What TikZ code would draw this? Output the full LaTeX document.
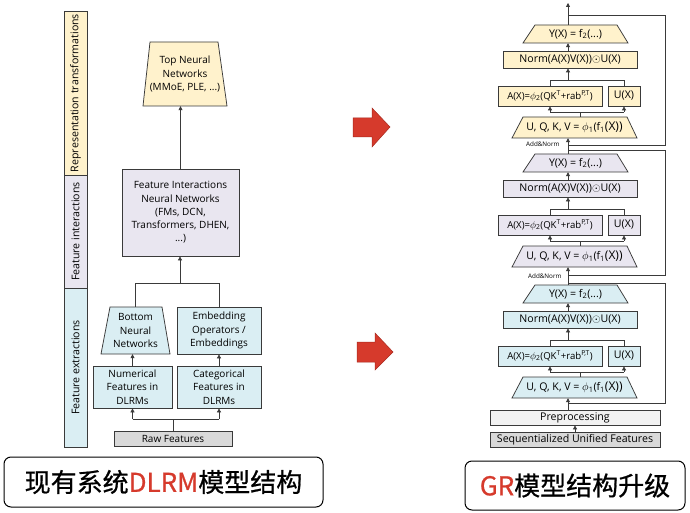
\documentclass[tikz,border=0pt]{standalone}
\usepackage{fontspec}
\setmainfont{Open Sans}
\newfontfamily\cjk[FakeBold=0.7]{Noto Sans CJK SC}
\usetikzlibrary{arrows.meta}
\definecolor{cyl}{HTML}{FFF2CC}
\definecolor{clav}{HTML}{E9E6F0}
\definecolor{cblu}{HTML}{DAEEF3}
\definecolor{cgry}{HTML}{D9D9D9}
\definecolor{cpre}{HTML}{F2F2F2}
\definecolor{cred}{HTML}{D63A2C}
\definecolor{cdred}{HTML}{A82A1F}
\definecolor{cln}{HTML}{3A3A3A}
\newcommand\bx[7]{%
  \pgfmathsetmacro\bxcx{(#2+#4)/2}\pgfmathsetmacro\bxcy{(#3+#5)/2}%
  \pgfmathsetmacro\bxw{#4-#2}\pgfmathsetmacro\bxh{#5-#3}%
  \node[#6, minimum width=\bxw pt, minimum height=\bxh pt, inner sep=0pt] (#1) at (\bxcx,\bxcy) {#7};}
\newcommand\tz[9]{%
  \draw[#8] (#2,#6) -- (#3,#6) -- (#5,#7) -- (#4,#7) -- cycle;
  \pgfmathsetmacro\bxcx{(#4+#5)/2}\pgfmathsetmacro\bxcy{(#6+#7)/2}%
  \pgfmathsetmacro\bxw{#5-#4}\pgfmathsetmacro\bxh{#7-#6}%
  \node[txt, minimum width=\bxw pt, minimum height=\bxh pt, inner sep=0pt] (#1) at (\bxcx,\bxcy) {#9};}
\newcommand\rtxt{\fontsize{10.6}{12}\selectfont}
\newcommand\sidetxt{\fontsize{10.6}{12}\selectfont}
\newcommand\grblock[1]{%
  \tz{Y}{535}{617}{523}{628}{25}{43}{box,fill=#1}{\rtxt Y(X) = f\textsubscript{2}(...)}
  \bx{N}{503}{51}{637}{68}{box,txt,fill=#1}{\rtxt Norm(A(X)V(X))$\odot$U(X)}
  \bx{A}{498}{86}{602}{106}{box,txt,fill=#1}{\fontsize{9.6}{11}\selectfont A(X)=$\phi$\textsubscript{2}(QK\textsuperscript{T}+rab\textsuperscript{P,T})}
  \bx{U}{608}{86}{640}{106}{box,txt,fill=#1}{\rtxt U(X)}
  \tz{Q}{523}{627}{512}{637}{117}{138}{box,fill=#1}{\rtxt U, Q, K, V = $\phi$\textsubscript{1}(f\textsubscript{1}{\fontsize{12}{12}\selectfont(X))}}
  \coordinate (j1) at (580,112);
  \coordinate (j2) at (568,80);
  \draw[ln] (Q.north -| j1) -- (j1);
  \draw[ln] (A.south |- j1) -- (U.south |- j1);
  \draw[arr] (A.south |- j1) -- (A.south);
  \draw[arr] (U.south |- j1) -- (U.south);
  \draw[ln] (A.north) -- (A.north |- j2) -- (U.north |- j2) -- (U.north);
  \draw[arr] (j2) -- (j2 |- N.south);
  \draw[arr] (N.north -| j2) -- (j2 |- Y.south);
}
\begin{document}
\begin{tikzpicture}[x=1pt,y=-1pt,
  box/.style={draw=cln, line width=0.75pt},
  txt/.style={font=\fontsize{10}{13.3}\selectfont, text=black, align=center},
  ln/.style={draw=cln, line width=0.75pt},
  arr/.style={ln, -{Triangle[length=4pt,width=4pt]}},
  red/.style={fill=cred, draw=cdred, line width=0.5pt},
  capbox/.style={draw=black, line width=1pt, rounded corners=7pt},
  small/.style={font=\fontsize{6.3}{7}\selectfont, text=black}]
\useasboundingbox (0,0) rectangle (690,513);
\fill[white] (0,0) rectangle (690,513);

% ---------- left sidebar ----------
\bx{s1}{64}{11}{87}{175}{box,txt,fill=cyl}{\sidetxt\rotatebox{90}{Representation transformations}}
\bx{s2}{64}{175}{87}{288}{box,txt,fill=clav}{\sidetxt\rotatebox{90}{Feature interactions}}
\bx{s3}{64}{288}{87}{447}{box,txt,fill=cblu}{\sidetxt\rotatebox{90}{Feature extractions}}

% ---------- left DLRM ----------
\tz{top}{150}{218}{143}{227}{42}{106}{box,fill=cyl}{Top Neural\\Networks\\(MMoE, PLE, ...)}
\bx{fi}{122}{169}{239}{256}{box,txt,fill=clav}{Feature Interactions\\Neural Networks\\(FMs, DCN,\\Transformers, DHEN,\\...)}
\tz{bnn}{110}{162}{101}{170}{307}{354}{box,fill=cblu}{Bottom\\Neural\\Networks}
\bx{emb}{177}{307}{261}{354}{box,txt,fill=cblu}{Embedding\\Operators /\\Embeddings}
\bx{num}{93}{366}{172}{408}{box,txt,fill=cblu}{Numerical\\Features in\\DLRMs}
\bx{cat}{177}{366}{261}{408}{box,txt,fill=cblu}{Categorical\\Features in\\DLRMs}
\bx{raw}{114}{431}{232}{446}{box,txt,fill=cgry}{Raw Features}

\coordinate (jr) at (173,419);
\coordinate (jf) at (180,283);
\draw[ln] (raw.north) -- (jr);
\draw[ln] (num.south |- jr) -- (cat.south |- jr);
\draw[arr] (num.south |- jr) -- (num.south);
\draw[arr] (cat.south |- jr) -- (cat.south);
\draw[arr] (num.north) -- (num.north |- bnn.south);
\draw[arr] (cat.north) -- (emb.south);
\draw[ln] (bnn.north) -- (bnn.north |- jf) -- (emb.north |- jf) -- (emb.north);
\draw[arr] (jf) -- (jf |- fi.south);
\draw[arr] (fi.north) -- (fi.north |- top.south);

% ---------- red arrows ----------
\draw[red] (353,118) -- (372,118) -- (372,108) -- (390,127) -- (372,147) -- (372,137) -- (353,137) -- cycle;
\draw[red] (357,342) -- (375,342) -- (375,333) -- (393,352) -- (375,370) -- (375,362) -- (357,362) -- cycle;

% ---------- right GR ----------
\begin{scope}[name prefix=b1-]
  \grblock{cyl}
\end{scope}
\begin{scope}[name prefix=b2-, shift={(0,129)}]
  \grblock{clav}
\end{scope}
\begin{scope}[name prefix=b3-, shift={(0,260)}]
  \grblock{cblu}
\end{scope}
\bx{prep}{490}{410}{660}{425}{box,txt,fill=cpre}{\rtxt Preprocessing}
\bx{seq}{490}{432}{660}{447}{box,txt,fill=cgry}{\rtxt Sequentialized Unified Features}

\coordinate (out) at (568,3);
\draw[arr] (b1-Y.north -| out) -- (out);
\draw[arr] (b2-Y.north -| out) -- (out |- b1-Q.south);
\draw[arr] (b3-Y.north -| out) -- (out |- b2-Q.south);
\draw[arr] (prep.north -| out) -- (out |- b3-Q.south);
\draw[arr] (seq.north) -- (prep.south);

% residual loops
\coordinate (r1t) at (568,15);  \coordinate (r1b) at (568,145);
\coordinate (r2t) at (568,150); \coordinate (r2b) at (568,275);
\coordinate (r3t) at (568,283); \coordinate (r3b) at (568,403);
\draw[ln] (r1b) -- ++(97,0) |- (r1t);
\draw[ln] (r2t) -- ++(97,0) |- (r2b);
\draw[ln] (r3t) -- ++(97,0) |- (r3b);
\node[small, anchor=east] (an1) at (563,144) {Add\&Norm};
\node[small, anchor=east] (an2) at (565,276) {Add\&Norm};

% ---------- captions ----------
\bx{cap1}{4}{457}{323}{507}{capbox}{\fontsize{26}{30}\selectfont\cjk 现有系统\textcolor{cred}{DLRM}模型结构}
\bx{cap2}{465}{461}{685}{510}{capbox}{\fontsize{26}{30}\selectfont\cjk \textcolor{cred}{GR}模型结构升级}
\end{tikzpicture}
\end{document}
